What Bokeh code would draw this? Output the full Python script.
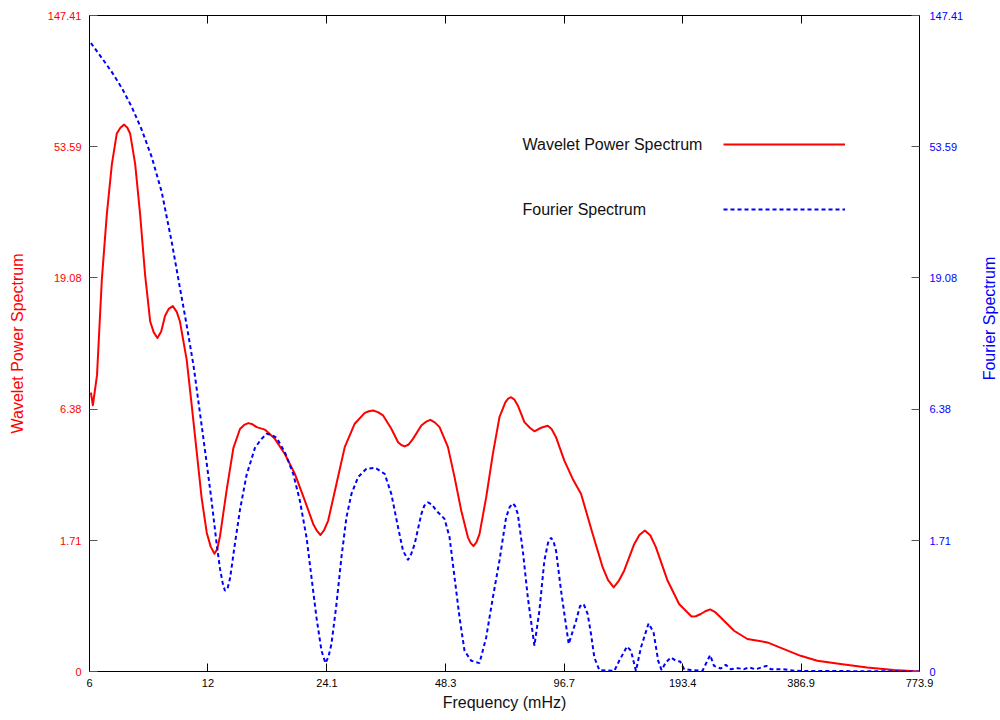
import math
import numpy as np
from bokeh.plotting import figure
from bokeh.models import (Range1d, FixedTicker, CustomJSTickFormatter, LinearAxis,
                          LogAxis, Legend, LegendItem, Label)
from bokeh.embed import file_html
from bokeh.resources import INLINE

# ---------------- data ----------------
freq_ticks = [6, 12, 24.1, 48.3, 96.7, 193.4, 386.9, 773.9]          # mHz
power_ticks = [0, 1.71, 6.38, 19.08, 53.59, 147.41]

wavelet_freq = [6.05, 6.12, 6.27, 6.45, 6.64, 6.84, 7.04, 7.19, 7.35, 7.49,
                7.61, 7.84, 8.07, 8.31, 8.56, 8.74, 8.93, 9.13, 9.34, 9.54,
                9.77, 10.00, 10.19, 10.60, 10.92, 11.24, 11.57, 11.92, 12.20, 12.47,
                12.67, 12.88, 13.39, 13.93, 14.48, 14.84, 15.21, 15.59, 15.96, 16.75,
                17.76, 18.83, 19.97, 21.17, 22.23, 22.73, 23.20, 23.68, 24.27, 25.48,
                26.74, 28.35, 30.06, 30.80, 31.57, 32.47, 33.47, 35.13, 36.54, 37.25,
                37.97, 38.80, 39.88, 41.87, 42.98, 44.13, 45.30, 46.59, 48.94, 50.86,
                52.89, 55.00, 55.91, 56.83, 57.84, 58.86, 61.21, 63.66, 66.16, 68.52,
                69.61, 70.84, 72.10, 73.67, 76.57, 79.16, 81.18, 84.42, 87.79, 89.76,
                92.16, 96.74, 101.6, 106.7, 114.2, 121.1, 124.9, 129.1, 133.2, 137.4,
                145.6, 150.1, 155.0, 160.1, 165.3, 177.0, 189.4, 203.7, 208.9, 215.1,
                220.8, 227.1, 234.1, 241.7, 261.3, 282.5, 317.6, 349.9, 385.8, 425.4,
                487.4, 569.8, 665.6, 773.9]
wavelet_power = [7.38, 6.61, 8.57, 18.87, 31.6, 46.8, 59.4, 62.1, 63.6, 62.1,
                 59.4, 46.8, 31.6, 19.5, 13.4, 12.26, 11.7, 12.36, 14.05, 14.86,
                 15.2, 14.5, 13.4, 9.75, 6.57, 4.33, 2.75, 1.88, 1.59, 1.455,
                 1.54, 1.80, 2.98, 4.49, 5.35, 5.55, 5.64, 5.58, 5.44, 5.32,
                 4.89, 4.25, 3.51, 2.68, 2.08, 1.92, 1.83, 1.93, 2.16, 3.18,
                 4.53, 5.61, 6.18, 6.27, 6.31, 6.22, 6.04, 5.36, 4.74, 4.62,
                 4.56, 4.63, 4.89, 5.52, 5.70, 5.81, 5.68, 5.44, 4.53, 3.40,
                 2.41, 1.78, 1.66, 1.60, 1.68, 1.85, 2.77, 4.25, 5.95, 6.79,
                 7.00, 7.09, 6.96, 6.60, 5.69, 5.40, 5.24, 5.41, 5.51, 5.35,
                 4.96, 3.99, 3.34, 2.87, 1.85, 1.21, 1.01, 0.898, 1.00, 1.16,
                 1.64, 1.83, 1.93, 1.82, 1.58, 1.00, 0.673, 0.52, 0.524, 0.55,
                 0.583, 0.605, 0.571, 0.51, 0.364, 0.281, 0.248, 0.186, 0.127, 0.085,
                 0.058, 0.031, 0.011, 0.0]

fourier_freq = [6.05, 6.45, 6.84, 7.25, 7.69, 8.15, 8.64, 9.16, 9.71, 10.19,
                10.60, 11.03, 11.46, 11.92, 12.27, 12.63, 12.88, 13.08, 13.26, 13.46,
                13.66, 14.06, 14.48, 15.05, 15.80, 16.34, 16.92, 17.42, 17.94, 18.83,
                19.78, 20.56, 21.38, 22.01, 22.66, 23.34, 23.89, 24.31, 24.74, 25.48,
                26.23, 27.01, 27.81, 28.92, 30.36, 32.00, 33.78, 35.13, 36.54, 37.62,
                38.73, 39.49, 40.26, 41.87, 42.61, 43.54, 44.52, 45.70, 47.97, 49.40,
                50.86, 52.37, 53.92, 56.08, 58.86, 61.21, 63.66, 66.16, 68.80, 70.22,
                71.55, 72.52, 73.67, 75.86, 78.11, 81.18, 83.59, 86.06, 87.95, 89.50,
                90.82, 92.16, 94.89, 99.25, 103.6, 106.0, 108.3, 110.9, 113.1, 115.3,
                118.7, 129.6, 133.4, 139.6, 142.9, 147.1, 151.5, 158.4, 163.1, 167.6,
                170.9, 175.3, 180.5, 185.8, 190.6, 195.1, 202.9, 217.2, 227.1, 232.4,
                241.7, 248.9, 256.3, 266.5, 277.0, 285.2, 296.6, 315.7, 323.8, 346.7,
                374.7, 773.9]
fourier_power = [119.3, 106.3, 95.4, 84.4, 72.8, 61.0, 49.4, 37.6, 25.4, 17.6,
                 13.0, 9.31, 6.15, 3.88, 2.65, 1.65, 1.19, 0.968, 0.851, 0.880,
                 1.03, 1.65, 2.43, 3.47, 4.49, 4.84, 5.12, 5.07, 4.94, 4.32,
                 3.51, 2.68, 1.78, 1.05, 0.51, 0.171, 0.066, 0.119, 0.233, 0.673,
                 1.39, 2.24, 2.87, 3.40, 3.69, 3.72, 3.51, 2.87, 2.00, 1.51,
                 1.34, 1.455, 1.64, 2.32, 2.54, 2.63, 2.57, 2.41, 2.20, 1.78,
                 1.05, 0.51, 0.171, 0.085, 0.066, 0.296, 0.759, 1.33, 2.24, 2.50,
                 2.60, 2.53, 2.32, 1.51, 0.759, 0.217, 0.589, 1.33, 1.67, 1.77,
                 1.69, 1.51, 0.851, 0.233, 0.472, 0.645, 0.673, 0.55, 0.330, 0.113,
                 0.011, 0.005, 0.085, 0.210, 0.171, 0.005, 0.201, 0.442, 0.347, 0.085,
                 0.011, 0.071, 0.113, 0.085, 0.079, 0.018, 0.011, 0.005, 0.133, 0.044,
                 0.023, 0.052, 0.018, 0.026, 0.018, 0.031, 0.017, 0.044, 0.018, 0.018,
                 0.005, 0.0]

series_names = ["Wavelet Power Spectrum", "Fourier Spectrum"]

# ---------------- figure ----------------
FONT = "Liberation Sans"

# The power axis is a log(1 + P) axis (ticks at e^k - 1)
p = figure(width=1000, height=720, x_axis_type="log",
           x_range=Range1d(freq_ticks[0], freq_ticks[-1]),
           y_range=Range1d(0, float(np.log1p(power_ticks[-1]))),
           output_backend="svg", toolbar_location=None,
           min_border_left=89, min_border_right=81,
           min_border_top=15, min_border_bottom=49)
p.grid.visible = False
p.outline_line_color = "black"
p.outline_line_width = 1
p.background_fill_color = "white"
p.border_fill_color = "white"

y_ticks = [float(v) for v in np.log1p(power_ticks)]
y_code = "const v = Math.exp(tick) - 1; return v < 0.005 ? '0' : v.toFixed(2);"
x_code = "return String(tick);"

# bottom axis
xa = p.xaxis[0]
xa.ticker = FixedTicker(ticks=freq_ticks, minor_ticks=[])
xa.formatter = CustomJSTickFormatter(code=x_code)
xa.major_tick_in = 8
xa.major_tick_out = 0
xa.minor_tick_in = 0
xa.minor_tick_out = 0
xa.major_tick_line_color = "black"
xa.axis_line_color = None
xa.major_label_text_font = FONT
xa.major_label_text_font_size = "11px"
xa.major_label_text_color = "black"
xa.major_label_standoff = 7
xa.axis_label = "Frequency (mHz)"
xa.axis_label_text_font = FONT
xa.axis_label_text_font_size = "16px"
xa.axis_label_text_font_style = "normal"
xa.axis_label_text_color = "#111111"
xa.axis_label_standoff = 4

# top axis (ticks only)
ta = LogAxis(ticker=FixedTicker(ticks=freq_ticks, minor_ticks=[]),
             formatter=CustomJSTickFormatter(code="return '';"),
             major_tick_in=8, major_tick_out=0, minor_tick_in=0, minor_tick_out=0,
             major_tick_line_color="black", axis_line_color=None,
             major_label_text_font_size="0px", major_label_standoff=0)
p.add_layout(ta, "above")

# left axis
ya = p.yaxis[0]
ya.ticker = FixedTicker(ticks=y_ticks, minor_ticks=[])
ya.formatter = CustomJSTickFormatter(code=y_code)
ya.major_tick_in = 8
ya.major_tick_out = 0
ya.minor_tick_in = 0
ya.minor_tick_out = 0
ya.major_tick_line_color = "#555555"
ya.axis_line_color = None
ya.major_label_text_font = FONT
ya.major_label_text_font_size = "11px"
ya.major_label_text_color = "#ff0000"
ya.major_label_standoff = 8
ya.axis_label = series_names[0]
ya.axis_label_text_font = FONT
ya.axis_label_text_font_size = "16px"
ya.axis_label_text_font_style = "normal"
ya.axis_label_text_color = "#ff0000"
ya.axis_label_standoff = 19

# right axis
ra = LinearAxis(ticker=FixedTicker(ticks=y_ticks, minor_ticks=[]),
                formatter=CustomJSTickFormatter(code=y_code),
                major_tick_in=8, major_tick_out=0, minor_tick_in=0, minor_tick_out=0,
                major_tick_line_color="#555555", axis_line_color=None,
                major_label_text_font=FONT, major_label_text_font_size="11px",
                major_label_text_color="#0000ff", major_label_standoff=10)
p.add_layout(ra, "right")

# right-hand title, reading bottom-to-top (placed in the right side panel)
p.add_layout(Label(x=23, y=353, x_units="screen", y_units="screen",
                   text=series_names[1], angle=math.pi / 2,
                   text_font=FONT, text_font_size="16px", text_color="#0000ff",
                   text_align="center", text_baseline="middle"), "right")

# ---------------- series ----------------
r_w = p.line(wavelet_freq, np.log1p(wavelet_power), line_color="#ff0000",
             line_width=2, line_join="round")
r_f = p.line(fourier_freq, np.log1p(fourier_power), line_color="#0000ff",
             line_width=2, line_dash="4 3")

# legend: line samples (Legend) with texts placed to their left
legend = Legend(items=[LegendItem(label=" ", renderers=[r_w]),
                       LegendItem(label=" ", renderers=[r_f])],
                location=(634, 452), orientation="vertical",
                glyph_width=122, glyph_height=20, label_height=20,
                label_standoff=0, spacing=45, padding=0, margin=0,
                border_line_color=None, background_fill_alpha=0,
                label_text_font=FONT, label_text_font_size="16px")
p.add_layout(legend)

for name, ypos in zip(series_names, (527, 462)):
    p.add_layout(Label(x=433, y=ypos, x_units="screen", y_units="screen",
                       text=name, text_font=FONT, text_font_size="16px",
                       text_color="#111111", text_baseline="middle",
                       text_align="left"))

open("out.html", "w").write(file_html(p, INLINE))
